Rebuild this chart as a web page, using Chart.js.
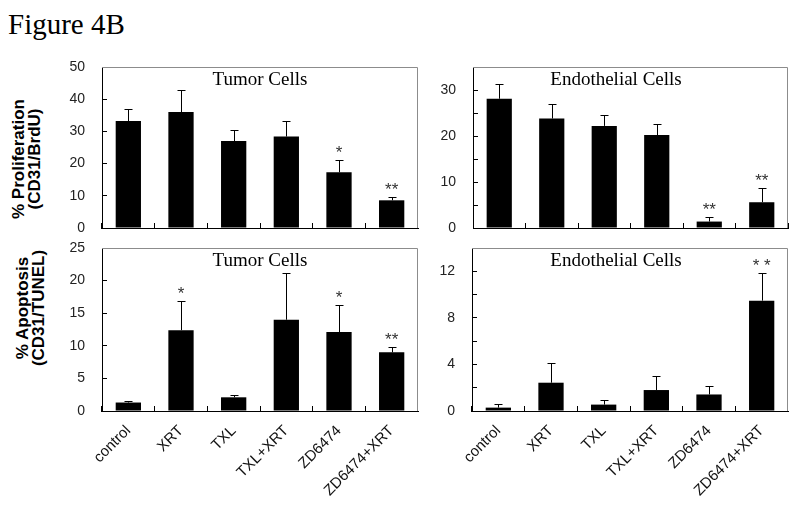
<!DOCTYPE html>
<html>
<head>
<meta charset="utf-8">
<script src="https://cdn.jsdelivr.net/npm/chart.js@4.4.0/dist/chart.umd.min.js"></script>
<style>
  body { margin: 0; background: #fff; }
  #wrap { position: relative; width: 800px; height: 515px; background: #fff; overflow: hidden; }
  #wrap canvas { position: absolute; }
  #fig { position: absolute; left: 8px; top: 10px; font: 29px/29px "Liberation Serif", "Times New Roman", serif; color: #000; }
  .ytitle { position: absolute; width: 200px; text-align: center; font: bold 17px/16px "Liberation Sans", Arial, sans-serif; color: #000; transform: rotate(-90deg); }
</style>
</head>
<body>
<div id="wrap">
  <div id="fig">Figure 4B</div>
  <div class="ytitle" style="left:-73px;top:143px">% Proliferation<br>(CD31/BrdU)</div>
  <div class="ytitle" style="left:-69px;top:292px">% Apoptosis<br>(CD31/TUNEL)</div>
  <canvas id="prolTumorChart"></canvas>
  <canvas id="prolEndoChart"></canvas>
  <canvas id="apoTumorChart"></canvas>
  <canvas id="apoEndoChart"></canvas>
</div>
<script>
const categories = ["control", "XRT", "TXL", "TXL+XRT", "ZD6474", "ZD6474+XRT"];

// Proliferazione - cellule tumorali
const prolTumor = [33.2, 36.0, 27.0, 28.4, 17.3, 8.6];
const prolTumorErr = [3.7, 7.0, 3.5, 4.8, 3.9, 0.9];
const prolTumorStars = ["", "", "", "", "*", "**"];
const prolTumorTicks = [0, 10, 20, 30, 40, 50];

// Proliferazione - cellule endoteliali
const prolEndo = [28.1, 23.8, 22.2, 20.2, 1.4, 5.6];
const prolEndoErr = [3.3, 3.2, 2.4, 2.4, 0.9, 3.0];
const prolEndoStars = ["", "", "", "", "**", "**"];
const prolEndoTicks = [0, 10, 20, 30];

// Apoptosi - cellule tumorali
const apoTumor = [1.3, 12.4, 2.1, 14.0, 12.1, 9.0];
const apoTumorErr = [0.3, 4.5, 0.3, 7.1, 4.2, 0.8];
const apoTumorStars = ["", "*", "", "", "*", "**"];
const apoTumorTicks = [0, 5, 10, 15, 20, 25];

// Apoptosi - cellule endoteliali
const apoEndo = [0.29, 2.43, 0.55, 1.8, 1.42, 9.48];
const apoEndoErr = [0.35, 1.67, 0.38, 1.2, 0.72, 2.38];
const apoEndoStars = ["", "", "", "", "", "* *"];
const apoEndoTicks = [0, 4, 8, 12];

// bordo grigio, barre d'errore, asterischi e titolo del pannello
const panelExtras = {
  id: "panelExtras",
  beforeDatasetsDraw(chart) {
    const a = chart.chartArea, ctx = chart.ctx;
    ctx.save();
    ctx.strokeStyle = "#8c8c8c";
    ctx.lineWidth = 1;
    ctx.beginPath();
    ctx.moveTo(a.left, a.top + 0.5);
    ctx.lineTo(a.right - 0.5, a.top + 0.5);
    ctx.lineTo(a.right - 0.5, a.bottom);
    ctx.stroke();
    ctx.restore();
  },
  afterDatasetsDraw(chart, args, opts) {
    const a = chart.chartArea, ctx = chart.ctx;
    const y = chart.scales.y;
    const meta = chart.getDatasetMeta(0);
    const vals = chart.data.datasets[0].data;
    ctx.save();
    ctx.strokeStyle = "#000";
    ctx.lineWidth = 1;
    meta.data.forEach((bar, i) => {
      const x = Math.round(bar.x) + 0.5;
      const yTop = Math.round(y.getPixelForValue(vals[i] + opts.err[i])) + 0.5;
      const yBar = y.getPixelForValue(vals[i]);
      ctx.beginPath();
      ctx.moveTo(x, yBar);
      ctx.lineTo(x, yTop);
      ctx.moveTo(x - 4, yTop);
      ctx.lineTo(x + 4, yTop);
      ctx.stroke();
      if (opts.stars[i]) {
        ctx.fillStyle = "#333";
        ctx.font = "17px 'Liberation Sans', Arial, sans-serif";
        ctx.textAlign = "center";
        ctx.textBaseline = "alphabetic";
        ctx.fillText(opts.stars[i], bar.x, yTop - 3);
      }
    });
    ctx.fillStyle = "#000";
    ctx.font = "19px 'Liberation Serif', 'Times New Roman', serif";
    ctx.textAlign = "center";
    ctx.textBaseline = "middle";
    ctx.fillText(opts.title, a.left + opts.titleX, a.top + 13);
    ctx.restore();
  }
};

function makePanel(id, area, values, errs, stars, yMax, yStep, yLabels, title, titleX, showX) {
  const yw = 64, pad = 6;
  const xh = showX ? 104 : 6;
  const canvas = document.getElementById(id);
  canvas.width = area.r - area.l + yw + pad;
  canvas.height = area.b - area.t + pad + xh;
  canvas.style.left = (area.l - yw) + "px";
  canvas.style.top = (area.t - pad) + "px";

  new Chart(canvas.getContext("2d"), {
    type: "bar",
    data: {
      labels: categories,
      datasets: [{
        data: values,
        backgroundColor: "#000",
        borderWidth: 0,
        barPercentage: 0.48,
        categoryPercentage: 1
      }]
    },
    options: {
      responsive: false,
      animation: false,
      layout: { padding: { top: pad, right: pad, left: 0, bottom: 0 } },
      plugins: {
        legend: { display: false },
        tooltip: { enabled: false },
        panelExtras: { err: errs, stars: stars, title: title, titleX: titleX }
      },
      scales: {
        x: {
          offset: true,
          border: { color: "#000", width: 1 },
          grid: { offset: true, drawOnChartArea: false, drawTicks: true, tickLength: -5, color: "#000" },
          ticks: {
            display: showX,
            minRotation: 45,
            maxRotation: 45,
            padding: 16,
            color: "#111",
            font: { family: "'Liberation Sans', Arial, sans-serif", size: 15 }
          },
          afterFit: s => { s.height = xh; s.paddingLeft = 0; s.paddingRight = 0; }
        },
        y: {
          min: 0,
          max: yMax,
          border: { color: "#000", width: 1 },
          grid: { drawOnChartArea: false, drawTicks: true, tickLength: -5, color: "#000" },
          ticks: {
            stepSize: yStep,
            padding: 22,
            color: "#222",
            font: { family: "'Liberation Sans', Arial, sans-serif", size: 14 },
            callback: v => yLabels.includes(v) ? v : ""
          },
          afterFit: s => { s.width = yw; s.paddingTop = 0; s.paddingBottom = 0; }
        }
      }
    },
    plugins: [panelExtras]
  });
}

makePanel("prolTumorChart", { l: 102, t: 67, r: 418, b: 228 }, prolTumor, prolTumorErr, prolTumorStars,
  50, 10, prolTumorTicks, "Tumor Cells", 158, false);
makePanel("prolEndoChart", { l: 473, t: 67, r: 788, b: 228 }, prolEndo, prolEndoErr, prolEndoStars,
  35, 5, prolEndoTicks, "Endothelial Cells", 143, false);
makePanel("apoTumorChart", { l: 102, t: 248, r: 418, b: 411 }, apoTumor, apoTumorErr, apoTumorStars,
  25, 5, apoTumorTicks, "Tumor Cells", 158, true);
makePanel("apoEndoChart", { l: 472, t: 248, r: 788, b: 411 }, apoEndo, apoEndoErr, apoEndoStars,
  14, 2, apoEndoTicks, "Endothelial Cells", 144, true);
</script>
</body>
</html>
